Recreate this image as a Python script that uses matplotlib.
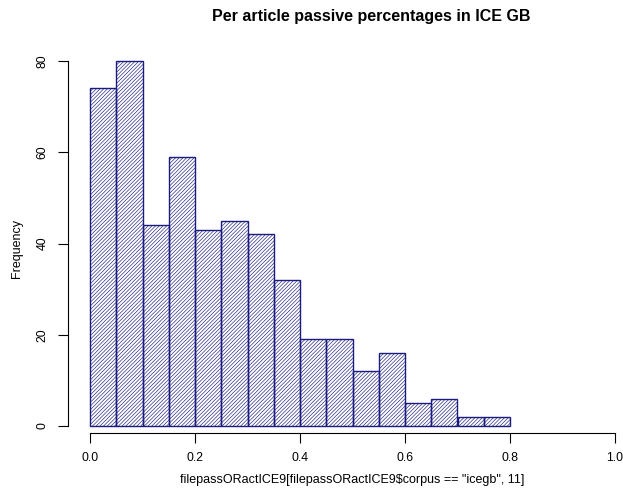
import matplotlib
matplotlib.use("Agg")
import matplotlib.pyplot as plt
import numpy as np

# Histogram of per-article passive proportions (bin width 0.05)
bin_edges = [0.00, 0.05, 0.10, 0.15, 0.20, 0.25, 0.30, 0.35, 0.40,
             0.45, 0.50, 0.55, 0.60, 0.65, 0.70, 0.75, 0.80]
counts = [74, 80, 44, 59, 43, 45, 42, 32, 19, 19, 12, 16, 5, 6, 2, 2]
x_ticks = [0.0, 0.2, 0.4, 0.6, 0.8, 1.0]
x_tick_labels = ["0.0", "0.2", "0.4", "0.6", "0.8", "1.0"]
y_ticks = [0, 20, 40, 60, 80]

plt.rcParams["font.family"] = ["Liberation Sans", "DejaVu Sans"]
plt.rcParams["hatch.linewidth"] = 0.45
plt.rcParams["hatch.color"] = "#34349c"

W, H = 623, 498
fig = plt.figure(figsize=(W / 100, H / 100), dpi=100)

# axes box in pixels: left 68, right at figure edge, top 46, bottom 433
left_px, right_px, top_px, bottom_px = 68, 623, 46.4, 433
ax = fig.add_axes([left_px / W, 1 - bottom_px / H,
                   (right_px - left_px) / W, (bottom_px - top_px) / H])

lefts = np.array(bin_edges[:-1])
widths = np.diff(bin_edges)
ax.bar(lefts, counts, width=widths, align="edge", facecolor="none",
       edgecolor="#1c1c80", linewidth=1.0, hatch="/" * 9)

ax.set_xlim(-22 / 525, (623 - 90) / 525)
ax.set_ylim(-7 / 4.5625, 83.2)

for s in ["top", "right"]:
    ax.spines[s].set_visible(False)
ax.spines["left"].set_bounds(0, 80)
ax.spines["bottom"].set_bounds(0, 1.0)
for s in ["left", "bottom"]:
    ax.spines[s].set_linewidth(0.8)

ax.set_xticks(x_ticks)
ax.set_xticklabels(x_tick_labels)
ax.set_yticks(y_ticks)
ax.set_yticklabels([str(v) for v in y_ticks], rotation=90, va="center")
ax.tick_params(axis="both", length=7, width=0.8, labelsize=8.8)
ax.tick_params(axis="x", pad=6.5)
ax.tick_params(axis="y", pad=7)

fig.text(371 / W, 1 - 16 / H, "Per article passive percentages in ICE GB",
         ha="center", va="center", fontsize=11.5, fontweight="bold")
fig.text(352 / W, 1 - 480 / H,
         'filepassORactICE9[filepassORactICE9$corpus == "icegb", 11]',
         ha="center", va="center", fontsize=9)
fig.text(17 / W, 1 - 249 / H, "Frequency", rotation=90,
         ha="center", va="center", fontsize=9)

fig.savefig("out.png", dpi=100)
